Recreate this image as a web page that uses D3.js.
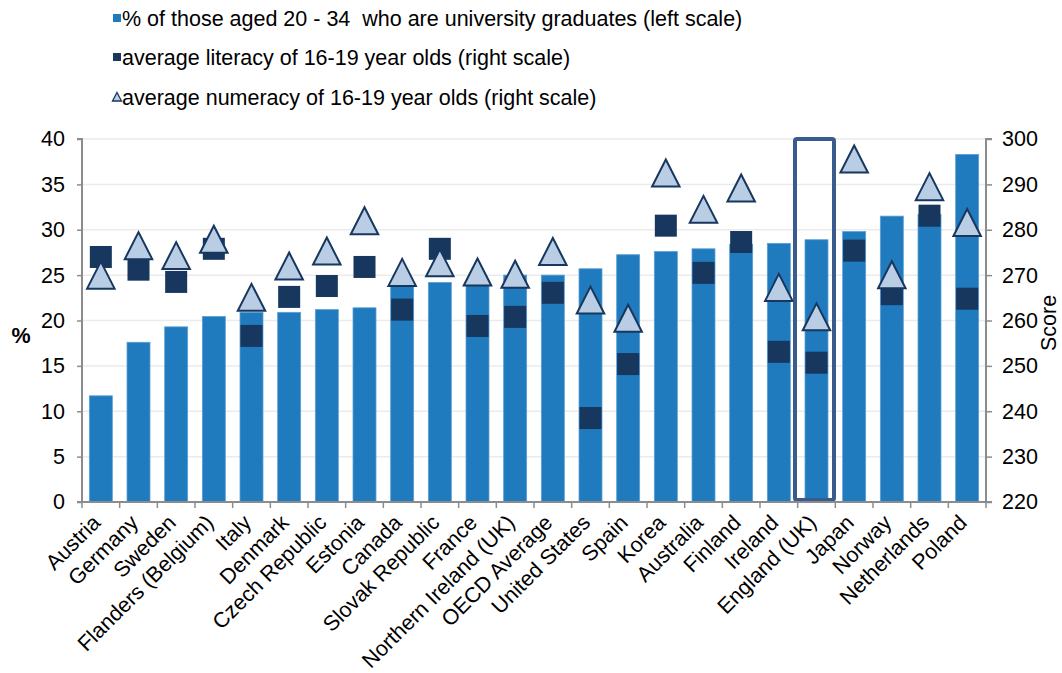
<!DOCTYPE html>
<html><head><meta charset="utf-8">
<script src="https://cdn.jsdelivr.net/npm/d3@7"></script>
<style>
body{margin:0;background:#fff;}
svg{display:block;font-family:"Liberation Sans",Arial,sans-serif;}
</style></head>
<body><svg id="c" width="1062" height="673"></svg>
<script>
const categories = ["Austria","Germany","Sweden","Flanders (Belgium)","Italy","Denmark","Czech Republic","Estonia","Canada","Slovak Republic","France","Northern Ireland (UK)","OECD Average","United States","Spain","Korea","Australia","Finland","Ireland","England (UK)","Japan","Norway","Netherlands","Poland"];
const graduates = [11.7,17.6,19.3,20.45,20.9,20.9,21.2,21.4,23.8,24.2,23.9,25.0,25.0,25.7,27.25,27.6,27.9,28.4,28.5,28.9,29.8,31.5,31.7,38.3];
const literacy = [274.0,271.2,268.5,275.8,256.6,265.2,267.6,271.8,262.4,275.8,258.8,260.8,266.1,238.5,250.4,280.9,270.5,277.3,253.1,250.7,275.4,265.8,283.1,264.8];
const numeracy = [270.0,276.5,274.3,277.9,265.1,272.0,275.3,282.0,270.6,272.7,270.7,270.2,275.2,264.5,260.5,292.5,284.5,289.2,267.3,260.8,295.6,270.1,289.5,281.6];
const leftTicks = [0,5,10,15,20,25,30,35,40];
const rightTicks = [220,230,240,250,260,270,280,290,300];
const legendLabels = ["% of those aged 20 - 34  who are university graduates (left scale)","average literacy of 16-19 year olds (right scale)","average numeracy of 16-19 year olds (right scale)"];
const highlight = "England (UK)";

const svg = d3.select("#c");
const L=82,R=986,T=139,B=502;
const FS=21.5;
const x = d3.scaleBand().domain(categories).range([L,R]).padding(0);
const yL = d3.scaleLinear().domain([0,40]).range([B,T]);
const yR = d3.scaleLinear().domain([220,300]).range([B,T]);
const step = x.step(), bw = step*0.61;
const barC="#1F7BBD", darkC="#17375E", triC="#B9CDE5", axisC="#8c8c8c";

// gridlines
svg.append("g").selectAll("line").data(leftTicks.filter(d=>d>0)).join("line")
  .attr("x1",L).attr("x2",R).attr("y1",d=>yL(d)).attr("y2",d=>yL(d))
  .attr("stroke","#ebebeb").attr("stroke-width",1.5);

// bars
svg.append("g").selectAll("rect").data(categories).join("rect")
  .attr("x",(d)=>x(d)+(step-bw)/2).attr("width",bw)
  .attr("y",(d,i)=>yL(graduates[i])).attr("height",(d,i)=>B-yL(graduates[i]))
  .attr("fill",barC).attr("stroke","#5c9fd6").attr("stroke-width",0.8);

// literacy squares
const sq=22;
svg.append("g").selectAll("rect").data(categories).join("rect")
  .attr("x",d=>x(d)+step/2-sq/2).attr("y",(d,i)=>yR(literacy[i])-sq/2)
  .attr("width",sq).attr("height",sq).attr("fill",darkC);

// numeracy triangles
const tw=27.5, th=27;
const triPath = `M0,${-th/2}L${tw/2},${th/2}L${-tw/2},${th/2}Z`;
svg.append("g").selectAll("path").data(categories).join("path")
  .attr("transform",(d,i)=>`translate(${x(d)+step/2},${yR(numeracy[i])})`)
  .attr("d",triPath).attr("fill",triC).attr("stroke",darkC).attr("stroke-width",2).attr("stroke-linejoin","miter");

// highlight box
const hx = x(highlight)+step/2;
svg.append("rect").attr("x",hx-21.5).attr("y",T).attr("width",39).attr("height",B-T-2)
  .attr("rx",2).attr("fill","none").attr("stroke","#3A5C8C").attr("stroke-width",4);

// axes
const gL = svg.append("g").attr("transform",`translate(${L},0)`)
  .call(d3.axisLeft(yL).tickValues(leftTicks).tickSize(5).tickPadding(12));
const gR = svg.append("g").attr("transform",`translate(${R},0)`)
  .call(d3.axisRight(yR).tickValues(rightTicks).tickSize(6).tickPadding(10));
const xAxis = d3.axisBottom(x).tickSize(0).tickFormat("");
const gB = svg.append("g").attr("transform",`translate(0,${B})`).call(xAxis);
gB.selectAll(".tick").remove();
gB.append("g").selectAll("line").data(d3.range(categories.length+1)).join("line")
  .attr("x1",i=>L+i*step).attr("x2",i=>L+i*step).attr("y1",0).attr("y2",6)
  .attr("stroke",axisC).attr("stroke-width",1.5);
[gL,gR,gB].forEach(g=>{
  g.selectAll(".domain").attr("stroke",axisC).attr("stroke-width",2);
  g.selectAll(".tick line").attr("stroke",axisC).attr("stroke-width",1.5);
  g.selectAll(".tick text").attr("font-size",FS).attr("fill","#000").attr("font-family","Liberation Sans, Arial, sans-serif");
});
gL.select(".domain").attr("d",`M-5,${T}H0V${B}H-5`);
gR.select(".domain").attr("d",`M6,${T}H0V${B}H6`);
gB.select(".domain").attr("d",`M${L},0H${R}`);

// x labels
svg.append("g").selectAll("text").data(categories).join("text")
  .attr("transform",d=>`translate(${x(d)+step/2+1},${B+22}) rotate(-45)`)
  .attr("text-anchor","end").attr("font-size",FS).attr("fill","#000").text(d=>d);

// axis titles
svg.append("text").attr("x",21).attr("y",343).attr("text-anchor","middle")
  .attr("font-size",FS).attr("font-weight","bold").text("%");
svg.append("text").attr("transform","translate(1056,323) rotate(-90)").attr("text-anchor","middle")
  .attr("font-size",FS).text("Score");

// legend
const lg = svg.append("g");
const ly=[18,57,97];
legendLabels.forEach((t,i)=>{
  const g=lg.append("g").attr("transform",`translate(117,${ly[i]})`);
  if(i<2){g.append("rect").attr("x",-4).attr("y",-4).attr("width",8).attr("height",8).attr("fill",i==0?barC:darkC);}
  else{g.append("path").attr("d","M0,-4.5L4.5,4L-4.5,4Z").attr("fill",triC).attr("stroke",darkC).attr("stroke-width",1.3);}
  g.append("text").attr("x",5).attr("y",7.5).attr("font-size",FS).attr("fill","#000")
    .style("white-space","pre").text(t);
});
</script></body></html>
